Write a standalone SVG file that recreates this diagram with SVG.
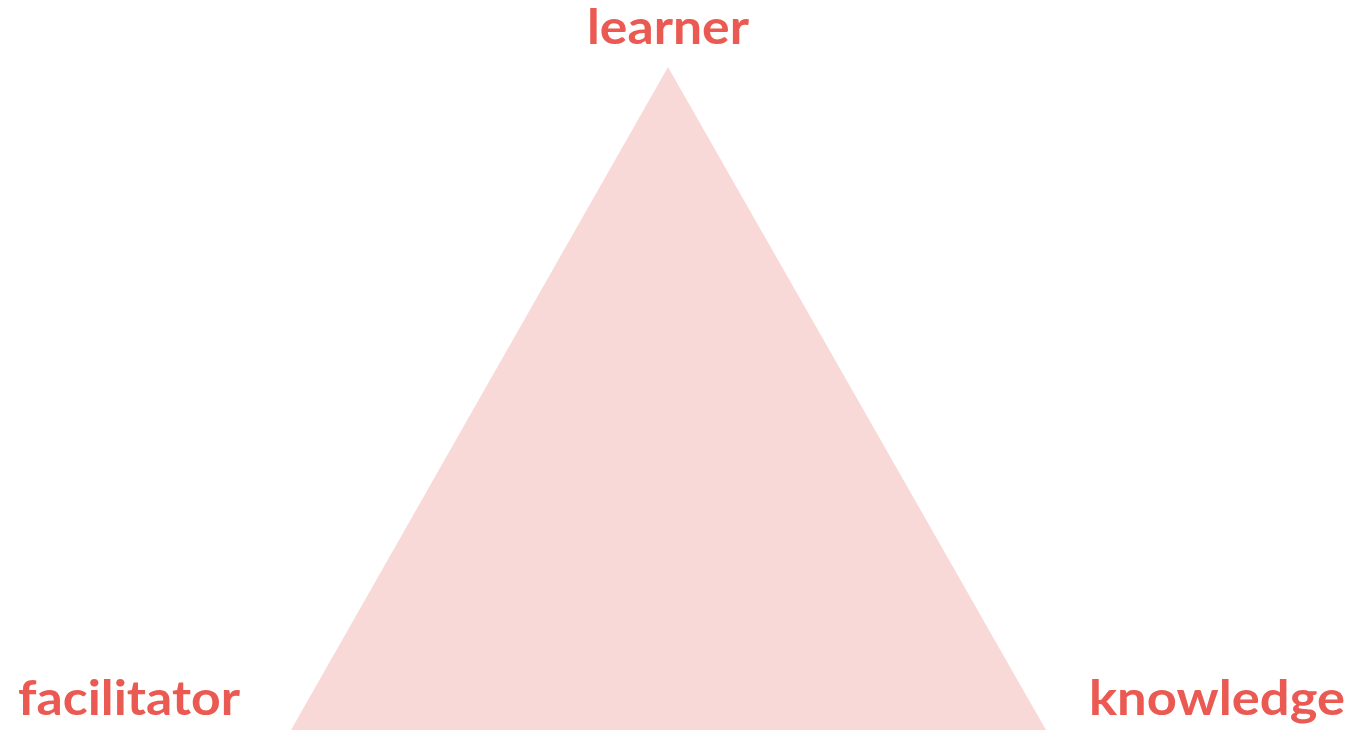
<svg xmlns="http://www.w3.org/2000/svg" width="1353" height="730" viewBox="0 0 1353 730">
<style>
.lbl{font-family:Lato,"Open Sans","Liberation Sans",sans-serif;font-weight:700;font-size:47px;fill:#EB5A52}
</style>
<rect width="1353" height="730" fill="#FFFFFF"/>
<g id="triangle"><polygon points="668,67 291,730 1046,730" fill="#F8D9D7"/></g>
<g id="connectors"/>
<g id="learner"><text class="lbl" x="587" y="44" textLength="162" lengthAdjust="spacingAndGlyphs">learner</text></g>
<g id="facilitator"><text class="lbl" x="18" y="715" textLength="222" lengthAdjust="spacingAndGlyphs">facilitator</text></g>
<g id="knowledge"><text class="lbl" x="1089" y="715" textLength="256" lengthAdjust="spacingAndGlyphs">knowledge</text></g>
</svg>
